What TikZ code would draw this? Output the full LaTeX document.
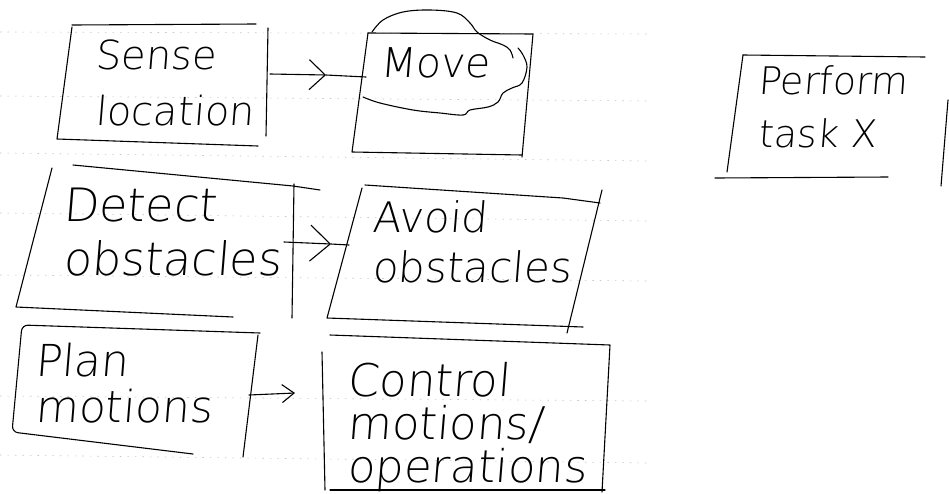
\documentclass[tikz,border=0pt]{standalone}
\usepackage{fontspec}
\usetikzlibrary{arrows.meta}
\newfontfamily\hand{DejaVuSans-ExtraLight.ttf}[FakeSlant=0.08]
\tikzset{
  pen/.style={line width=1.1pt, line cap=round, line join=round, black},
  label/.style={anchor=north west, inner sep=0pt, align=left, font=\hand},
  barb/.style={pen, -{Straight Barb[length=#1, width=30pt, line width=1.1pt]}},
  ruling/.style={gray!45, line width=0.6pt, dash pattern=on 1.5pt off 6pt},
}
\begin{document}
\begin{tikzpicture}[x=1pt,y=-1pt]
\useasboundingbox (0,0) rectangle (949,493);
\fill[white] (0,0) rectangle (949,493);

% ---------- faint notebook rulings ----------
\foreach \ya/\yb in {32/34, 96/101, 153/161, 213/221, 275/281, 396/401, 455/463}
  \draw[ruling] (0,\ya) -- (650,\yb);

% ---------- Sense location ----------
\draw[pen] (72,25) -- (256,24);
\draw[pen] (268,28) -- (266,136);
\draw[pen] (72,27) -- (57,139) -- (258,146);
\node[label, font=\hand\fontsize{40}{56}\selectfont] (sense) at (95,40) {Sense\\location};

% ---------- Move ----------
\draw[pen] (368,33) -- (533,34) -- (522,157);
\draw[pen] (368,33) -- (352,152) -- (522,155);
\draw[pen] plot[smooth, tension=0.6] coordinates {(372,32) (383,20) (403,12) (430,10) (457,13) (470,23) (477,32) (490,40) (503,45) (510,50) (513,58)};
\draw[pen] plot[smooth, tension=0.6] coordinates {(518,48) (523,55) (527,67) (522,83) (512,88) (503,93) (498,102) (488,107) (470,110) (463,115) (440,113) (413,110) (380,103) (363,97)};
\node[label, font=\hand\fontsize{41}{50}\selectfont] (move) at (380,47) {Move};

% ---------- Perform task X ----------
\draw[pen] (743,55) -- (925,57);
\draw[pen] (743,55) -- (727,172);
\draw[pen] (715,178) -- (888,177);
\draw[pen] (948,100) -- (941,186);
\node[label, font=\hand\fontsize{38}{53}\selectfont] (perform) at (758,65) {Perform\\task X};

% ---------- Detect obstacles ----------
\draw[pen] (73,165) -- (293,186) -- (320,190);
\draw[pen] (294,184) -- (292,318);
\draw[pen] (52,168) -- (16,307) -- (233,317);
\node[label, font=\hand\fontsize{46}{54}\selectfont] (detect) at (63,188) {Detect\\obstacles};

% ---------- Avoid obstacles ----------
\draw[pen] (365,185) -- (563,198) -- (600,203);
\draw[pen] (602,190) -- (567,333);
\draw[pen] (362,188) -- (327,318) -- (583,327);
\node[label, font=\hand\fontsize{42}{50}\selectfont] (avoid) at (372,200) {Avoid\\obstacles};

% ---------- Plan motions ----------
\draw[pen, rounded corners=6pt] (260,333) -- (22,325) -- (12,432) -- (193,454);
\draw[pen] (258,335) -- (243,457);
\node[label, font=\hand\fontsize{44}{46}\selectfont] (plan) at (35,343) {Plan\\motions};

% ---------- Control motions / operations ----------
\draw[pen] (330,335) -- (610,345) -- (602,492);
\draw[pen] (322,352) -- (325,490);
\draw[pen] (330,490) -- (605,490);
\node[label, font=\hand\fontsize{45}{43}\selectfont] (control) at (347,362) {Control\\motions/\\operations};

% ---------- connectors ----------
\coordinate (a1s) at (270,74);
\coordinate (a1t) at (326,75);
\coordinate (a1e) at (366,77);
\draw[barb=16pt] (a1s) -- (a1t);
\draw[pen] (a1t) -- (a1e);

\coordinate (a2s) at (284,242);
\coordinate (a2t) at (331,244);
\coordinate (a2e) at (349,245);
\draw[pen, -{Straight Barb[length=20pt, width=36pt, line width=1.1pt]}] (a2s) -- (a2t);
\draw[pen] (a2t) -- (a2e);

\coordinate (a3s) at (249,395);
\coordinate (a3t) at (295,393);
\draw[pen, -{Straight Barb[length=12pt, width=18pt, line width=1.1pt]}] (a3s) -- (a3t);
\end{tikzpicture}
\end{document}
